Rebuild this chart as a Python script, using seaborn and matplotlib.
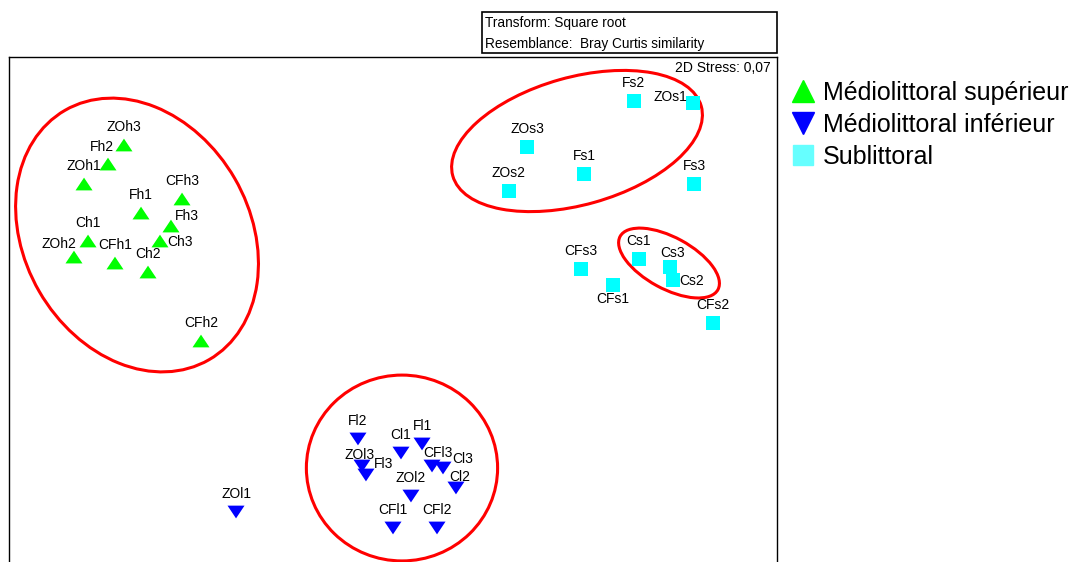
import matplotlib.pyplot as plt
import pandas as pd
import seaborn as sns
from matplotlib.lines import Line2D
from matplotlib.patches import Ellipse, Rectangle

# nMDS coordinates
sup_labels = ["ZOh3", "Fh2", "ZOh1", "Fh1", "CFh3", "Fh3", "Ch1", "Ch3", "ZOh2", "CFh1", "Ch2", "CFh2"]
sup_x = [14.97, 12.89, 9.77, 17.19, 22.53, 21.09, 10.29, 19.66, 8.46, 13.80, 18.10, 25.00]
sup_y = [54.95, 52.47, 49.87, 46.09, 47.92, 44.40, 42.45, 42.45, 40.36, 39.58, 38.41, 29.43]

inf_labels = ["Fl2", "Cl1", "Fl1", "ZOl3", "Fl3", "CFl3", "Cl3", "Cl2", "ZOl2", "CFl1", "CFl2", "ZOl1"]
inf_x = [45.44, 51.04, 53.78, 45.96, 46.48, 55.08, 56.51, 58.20, 52.34, 50.00, 55.73, 29.56]
inf_y = [16.67, 14.84, 16.02, 13.15, 11.98, 13.15, 12.89, 10.29, 9.24, 5.08, 5.08, 7.16]

sub_labels = ["Fs2", "ZOs1", "ZOs3", "Fs1", "ZOs2", "Fs3", "Cs1", "Cs3", "Cs2", "CFs3", "CFs1", "CFs2"]
sub_x = [81.38, 89.06, 67.45, 74.87, 65.10, 89.19, 82.03, 86.07, 86.46, 74.48, 78.65, 91.67]
sub_y = [60.68, 60.42, 54.69, 51.17, 48.96, 49.87, 40.10, 39.06, 37.37, 38.80, 36.72, 31.77]

zones = ["Médiolittoral supérieur", "Médiolittoral inférieur", "Sublittoral"]

# cluster outlines: centre x, centre y, width, height, angle
clusters = [
    (16.67, 43.23, 37.5, 29.4, 120),
    (51.17, 12.89, 24.9, 24.2, 0),
    (73.96, 55.47, 33.6, 16.6, 15.7),
    (85.94, 39.58, 14.5, 6.7, -28.6),
]

df = pd.DataFrame({
    "label": sup_labels + inf_labels + sub_labels,
    "x": sup_x + inf_x + sub_x,
    "y": sup_y + inf_y + sub_y,
    "zone": [zones[0]] * len(sup_x) + [zones[1]] * len(inf_x) + [zones[2]] * len(sub_x),
})

sns.set_style("white")
plt.rcParams["font.family"] = ["Liberation Sans", "DejaVu Sans"]
plt.rcParams["text.color"] = "black"

fig = plt.figure(figsize=(10.81, 5.62), dpi=100)
ax = fig.add_axes([9 / 1081, -5 / 562, 768 / 1081, 510 / 562])

tri_up = [(-1, -0.75), (1, -0.75), (0, 0.75)]
tri_down = [(-1, 0.75), (1, 0.75), (0, -0.75)]
palette = {zones[0]: "#00ff00", zones[1]: "#0000ff", zones[2]: "#00ffff"}
markers = {zones[0]: tri_up, zones[1]: tri_down, zones[2]: "s"}
sizes = {zones[0]: 150, zones[1]: 150, zones[2]: 100}

sns.scatterplot(data=df, x="x", y="y", hue="zone", style="zone", size="zone",
                palette=palette, markers=markers, sizes=sizes,
                linewidth=0, legend=False, ax=ax, zorder=3)

# label offsets in pixels (default: centred above the marker)
offsets = {
    "Fh2": (-6, 17), "Fh3": (16, 10), "Ch3": (20, -1), "ZOh2": (-15, 13),
    "ZOs1": (-23, 6), "Cs3": (3, 14), "Cs2": (19, -1), "CFs1": (0, -14),
    "ZOl3": (-2, 11), "Fl3": (18, 11), "CFl3": (6, 13), "Cl3": (20, 9), "Cl2": (4, 11),
}
for _, row in df.iterrows():
    dx, dy = offsets.get(row["label"], (0, 18))
    ax.annotate(row["label"], (row["x"], row["y"]), xytext=(dx, dy),
                textcoords="offset pixels", ha="center", va="center",
                fontsize=10, color="black", zorder=4)

for cx, cy, w, h, ang in clusters:
    ax.add_patch(Ellipse((cx, cy), w, h, angle=ang, fill=False,
                         edgecolor="#ff0000", linewidth=2.2, zorder=2))

ax.set_xlim(0, 100)
ax.set_ylim(0, 66.41)
ax.set_xticks([])
ax.set_yticks([])
ax.set_xlabel("")
ax.set_ylabel("")
for sp in ax.spines.values():
    sp.set_color("black")
    sp.set_linewidth(1.0)

ax.text(0.992, 0.978, "2D Stress: 0,07", transform=ax.transAxes,
        ha="right", va="center", fontsize=10, color="black")

# header box
fig.add_artist(Rectangle((482 / 1081, 1 - 53 / 562), 295 / 1081, 41 / 562,
                         transform=fig.transFigure, fill=False,
                         edgecolor="black", linewidth=1.2))
fig.text(485 / 1081, 1 - 23 / 562, "Transform: Square root", fontsize=9.8, va="center")
fig.text(485 / 1081, 1 - 44 / 562, "Resemblance:  Bray Curtis similarity", fontsize=9.8, va="center")

handles = [
    Line2D([], [], marker="^", linestyle="", markersize=16, color="#00ff00"),
    Line2D([], [], marker="v", linestyle="", markersize=16, color="#0000ff"),
    Line2D([], [], marker="s", linestyle="", markersize=15, color="#66ffff"),
]
fig.legend(handles, zones, loc="upper left", bbox_to_anchor=(790 / 1081, 1 - 81 / 562),
           frameon=False, fontsize=18, handlelength=1.0, handletextpad=0.33,
           labelspacing=0.32, borderpad=0, borderaxespad=0, labelcolor="black")

fig.savefig("out.png", dpi=100)
